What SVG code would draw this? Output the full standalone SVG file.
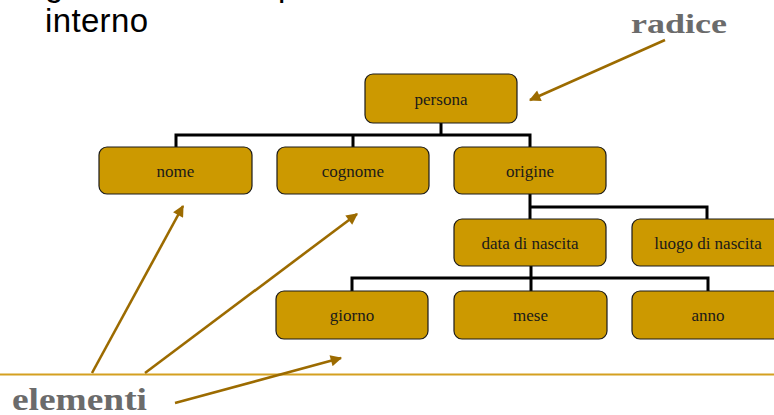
<svg xmlns="http://www.w3.org/2000/svg" width="774" height="415" viewBox="0 0 774 415">
  <style>
    .box { fill: #CC9900; stroke: #1a1a1a; stroke-width: 1.2; }
    .lbl { font-family: "Liberation Serif", "Times New Roman", serif; font-size: 17px; fill: #1a1a1a; text-anchor: middle; }
    .conn { fill: none; stroke: #000; stroke-width: 3; }
    .arr { fill: none; stroke: #9C6B00; stroke-width: 2.6; marker-end: url(#ah); }
    .big { font-family: "Liberation Serif", "Times New Roman", serif; font-weight: bold; fill: #6b6b6b; }
    .sans { font-family: "Liberation Sans", Arial, sans-serif; font-size: 33px; fill: #000; }
  </style>
  <defs>
    <marker id="ah" viewBox="0 0 10 10" refX="9" refY="5" markerWidth="5.5" markerHeight="4.4" orient="auto" markerUnits="strokeWidth">
      <path d="M0,0 L10,5 L0,10 z" fill="#9C6B00"/>
    </marker>
  </defs>

  <rect width="774" height="415" fill="#fff"/>

  <g id="title">
    <text class="sans" x="45" y="-4">g</text>
    <text class="sans" x="278" y="-4">p</text>
    <text class="sans" x="45" y="32" textLength="103">interno</text>
  </g>

  <line x1="0" y1="374.5" x2="774" y2="374.5" stroke="#D4A020" stroke-width="2"/>

  <g id="connectors">
    <path class="conn" d="M441 123 V135 M176 147 V135 H530 V147 M353 135 V147"/>
    <path class="conn" d="M530 194 V219 M530 207 H707 V219"/>
    <path class="conn" d="M531 266 V291 M352 291 V278 H708 V291"/>
  </g>

  <g id="persona"><rect class="box" x="365" y="74" width="152" height="49" rx="8"/><text class="lbl" x="441" y="105">persona</text></g>
  <g id="nome"><rect class="box" x="99" y="147" width="153" height="47" rx="8"/><text class="lbl" x="175.5" y="176.5">nome</text></g>
  <g id="cognome"><rect class="box" x="277" y="147" width="152" height="47" rx="8"/><text class="lbl" x="353" y="176.5">cognome</text></g>
  <g id="origine"><rect class="box" x="454" y="147" width="152" height="47" rx="8"/><text class="lbl" x="530" y="176.5">origine</text></g>
  <g id="data_di_nascita"><rect class="box" x="454" y="219" width="152" height="47" rx="8"/><text class="lbl" x="530" y="248.5">data di nascita</text></g>
  <g id="luogo_di_nascita"><rect class="box" x="632" y="219" width="152" height="47" rx="8"/><text class="lbl" x="708" y="248.5">luogo di nascita</text></g>
  <g id="giorno"><rect class="box" x="276" y="291" width="152" height="48" rx="8"/><text class="lbl" x="352" y="321">giorno</text></g>
  <g id="mese"><rect class="box" x="454" y="291" width="153" height="48" rx="8"/><text class="lbl" x="530.5" y="321">mese</text></g>
  <g id="anno"><rect class="box" x="632" y="291" width="152" height="48" rx="8"/><text class="lbl" x="708" y="321">anno</text></g>

  <g id="radice">
    <text class="big" x="631" y="33" font-size="27" textLength="96" lengthAdjust="spacingAndGlyphs">radice</text>
  </g>
  <g id="elementi">
    <text class="big" x="12" y="410" font-size="32" textLength="135" lengthAdjust="spacingAndGlyphs">elementi</text>
  </g>

  <g id="arrows">
    <line class="arr" x1="665" y1="40" x2="530" y2="100"/>
    <line class="arr" x1="92" y1="373" x2="183" y2="206"/>
    <line class="arr" x1="145" y1="373" x2="357" y2="214"/>
    <line class="arr" x1="175" y1="403" x2="341" y2="358"/>
  </g>
</svg>
